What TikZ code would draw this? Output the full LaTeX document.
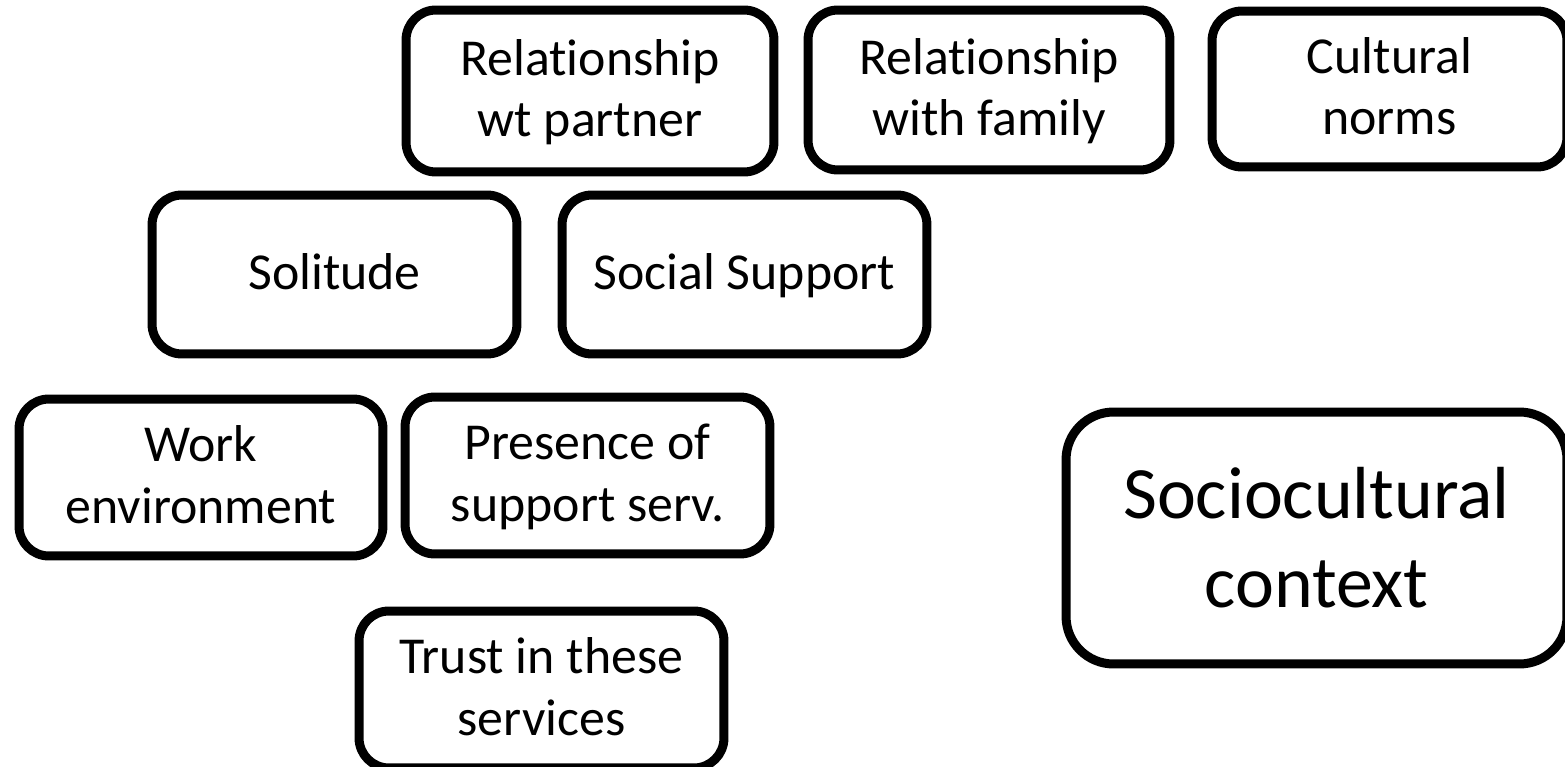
\documentclass[tikz,border=0pt]{standalone}
\usepackage{fontspec}
\setmainfont{Carlito}[Ligatures=NoCommon]
\newcommand\sst{\rule[-9pt]{0pt}{35pt}}
\newcommand\bst{\rule[-11.3pt]{0pt}{51pt}}
\begin{document}
\begin{tikzpicture}[x=0.02cm,y=-0.02cm,
  box/.style={draw=black, line width=0.18cm, rounded corners=0.6cm, inner sep=0pt, align=center,
    font=\fontsize{29.5}{35}\selectfont},
  bigbox/.style={box, rounded corners=0.95cm, font=\fontsize{42}{51}\selectfont}]
\useasboundingbox (0,0) rectangle (1565,767);
\clip (0,0) rectangle (1565,767);
\node[box, minimum width=7.36cm, minimum height=3.24cm] (partner) at (590,91) {\sst Relationship\\\sst wt partner};
\node[box, minimum width=7.24cm, minimum height=3.2cm] (family) at (989,90) {\sst Relationship\\\sst with family};
\node[box, minimum width=7.1cm, minimum height=3.12cm] (norms) at (1389.5,89) {\sst Cultural\\\sst norms};
\node[box, minimum width=7.3cm, minimum height=3.18cm] (solitude) at (334.5,274.5) {\sst Solitude};
\node[box, minimum width=7.3cm, minimum height=3.18cm] (social) at (744.5,274.5) {\sst Social Support};
\node[box, minimum width=7.28cm, minimum height=3.14cm] (work) at (201,477.5) {\sst Work\\\sst environment};
\node[box, minimum width=7.3cm, minimum height=3.14cm] (presence) at (587.5,475.5) {\sst Presence of\\\sst support serv.};
\node[box, minimum width=7.3cm, minimum height=3.14cm] (trust) at (541.5,689.5) {\sst Trust in these\\\sst services};
\node[bigbox, minimum width=10.02cm, minimum height=5.04cm] (context) at (1316.5,538) {\bst Sociocultural\\\bst context};
\end{tikzpicture}
\end{document}
